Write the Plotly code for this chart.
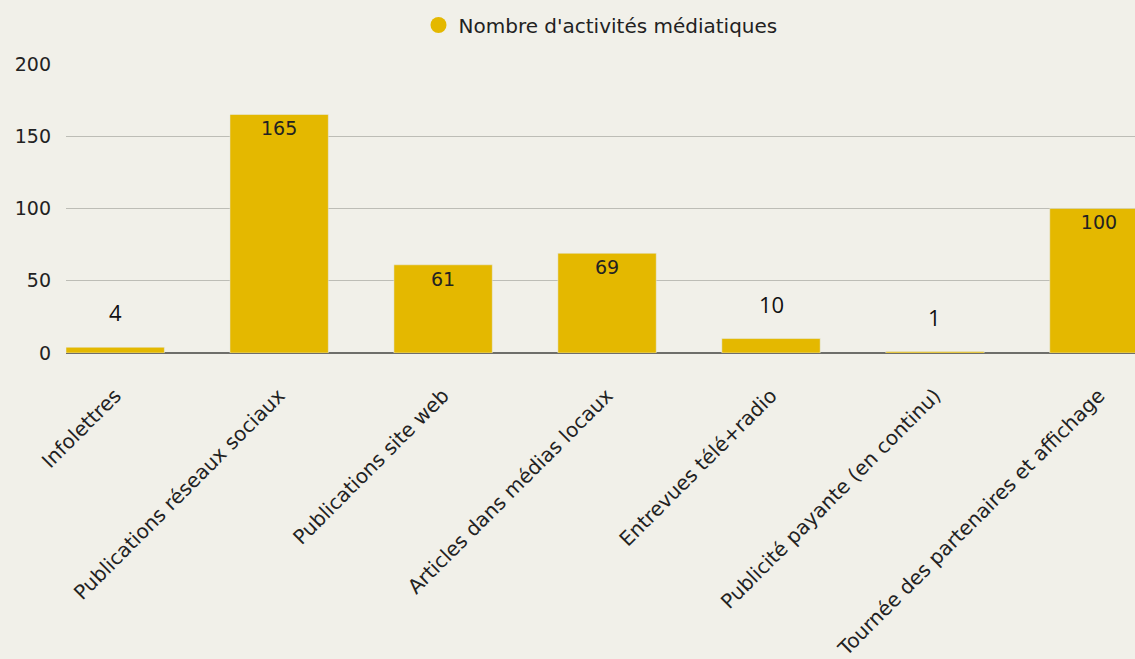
import plotly.graph_objects as go

categories = [
    "Infolettres",
    "Publications réseaux sociaux",
    "Publications site web",
    "Articles dans médias locaux",
    "Entrevues télé+radio",
    "Publicité payante (en continu)",
    "Tournée des partenaires et affichage",
]
values = [4, 165, 61, 69, 10, 1, 100]
series_name = "Nombre d'activités médiatiques"
y_ticks = [0, 50, 100, 150, 200]

BAR = "#e4b800"
BG = "#f1f0e9"
FONT = "DejaVu Sans"
TXT = "#222222"

inside_min = 30
text_inside = [str(v) if v >= inside_min else "" for v in values]

fig = go.Figure()
fig.add_trace(go.Bar(
    x=categories, y=values, marker_color=BAR, showlegend=False,
    text=text_inside, textposition="inside", insidetextanchor="end",
    textfont=dict(family=FONT, size=19, color=TXT),
    cliponaxis=True, hoverinfo="x+y",
))
fig.add_trace(go.Scatter(
    x=[None], y=[None], mode="markers", name=series_name,
    marker=dict(symbol="circle", size=20, color=BAR),
))
for c, v in zip(categories, values):
    if v < inside_min:
        fig.add_annotation(x=c, y=v, text=str(v), showarrow=False,
                           yanchor="bottom", yshift=18,
                           font=dict(family="Open Sans", size=22, color="#111"))

fig.update_layout(
    width=1135, height=659,
    paper_bgcolor=BG, plot_bgcolor=BG,
    margin=dict(l=66, r=0, t=63, b=306, autoexpand=False),
    bargap=0.4,
    font=dict(family=FONT, size=19, color=TXT),
    legend=dict(orientation="h", x=0.5, xanchor="center", y=1.131, yanchor="middle",
                yref="paper", font=dict(family=FONT, size=20, color=TXT),
                itemsizing="trace", bgcolor="rgba(0,0,0,0)"),
    showlegend=True,
)
fig.update_xaxes(range=[-0.3, 6.22], tickangle=-45, showgrid=False,
                 tickfont=dict(family=FONT, size=20, color=TXT),
                 showline=False, zeroline=False, ticks="",
                 ticklabelstandoff=26, automargin=False)
fig.update_yaxes(range=[0, 200.6], tickvals=y_ticks, showgrid=True,
                 gridcolor="#bdbdb6", gridwidth=1.3, zeroline=True,
                 zerolinecolor="#6e6e6a", zerolinewidth=1.5,
                 tickfont=dict(family=FONT, size=19, color=TXT), ticks="",
                 ticklabelstandoff=14, automargin=False)
fig.write_html("out.html", config={"displayModeBar": False},
               post_script="document.body.style.margin='0';document.body.style.background='%s';" % BG)
